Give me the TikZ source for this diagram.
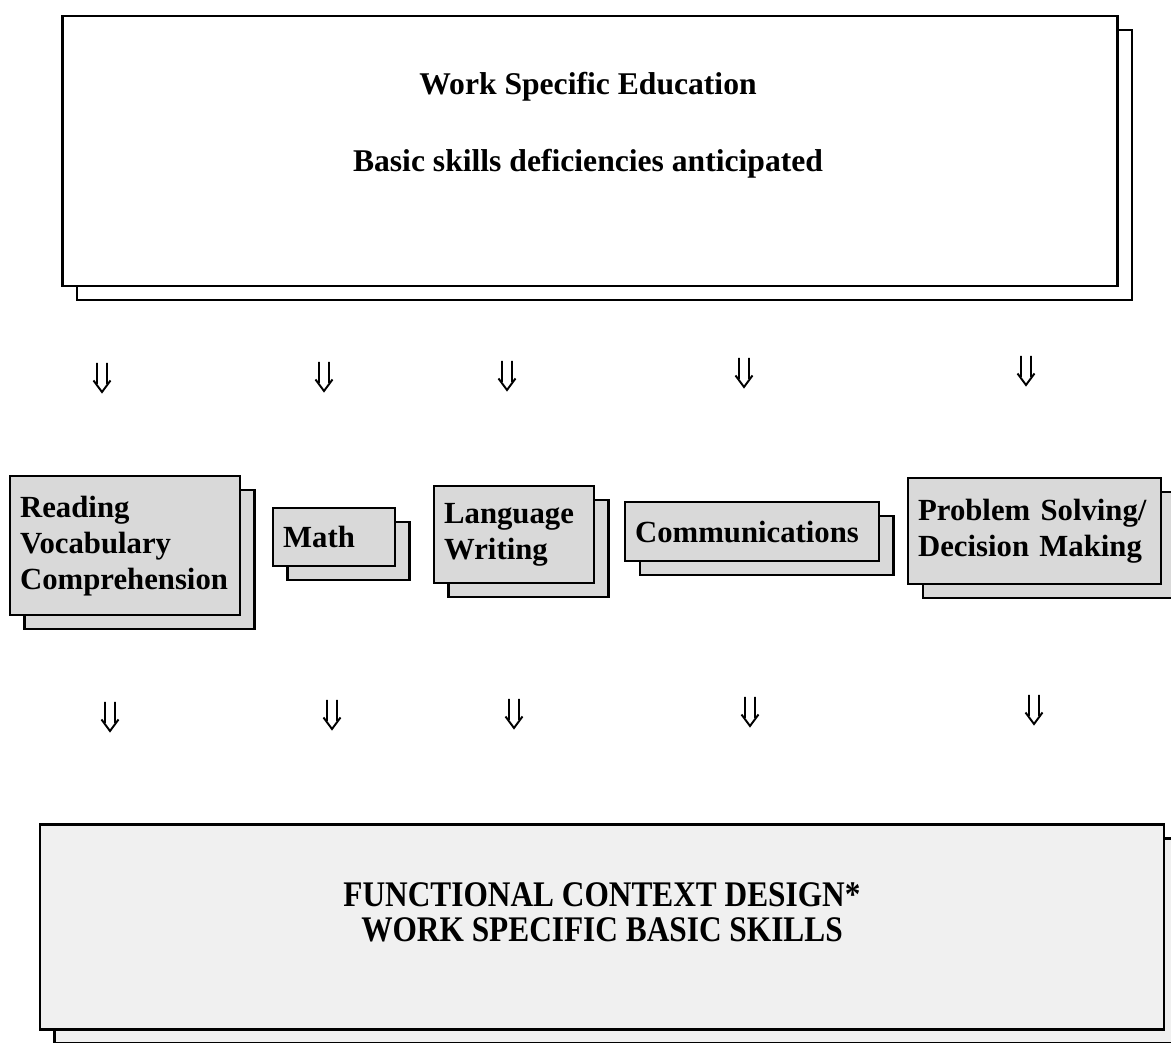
\documentclass[tikz,border=0pt]{standalone}
\usepackage{fontspec}
\setmainfont{Liberation Serif}
\newfontfamily\capsfont[FakeStretch=0.87]{Liberation Serif}
\usetikzlibrary{shadows}
\definecolor{SkillFill}{gray}{0.85}
\definecolor{DesignFill}{gray}{0.94}

\tikzset{
  stack/.style={
    draw,
    line width=1.3pt,
    rectangle,
    copy shadow={shadow xshift=0.29cm, shadow yshift=-0.28cm}
  },
  skill/.style={
    stack,
    fill=SkillFill,
    anchor=north west,
    align=left,
    inner xsep=0.2cm,
    inner ysep=0pt,
    font=\bfseries\fontsize{17.5}{20.5}\selectfont
  },
  % the double down arrow between the rows
  dnarrow/.pic={
    \draw[line width=1.1pt, line join=miter]
      (-5,0) -- (-5,21)
      (5,0) -- (5,21)
      (-8.5,17.5) -- (0,29) -- (8.5,17.5);
  }
}

\begin{document}
\begin{tikzpicture}[x=0.02cm,y=-0.02cm]
  \useasboundingbox (0,0) rectangle (1171,1043);

  % top block
  \node[stack, fill=white,
    minimum width=21.1cm,
    minimum height=5.4cm
  ] (edu) at (590,151) {};
  \node[anchor=base, font=\bfseries\fontsize{18}{22}\selectfont] (eduhead) at (588,95) {Work Specific Education};
  \node[anchor=base, font=\bfseries\fontsize{18}{22}\selectfont] (edusub) at (588,172) {Basic skills deficiencies anticipated};

  % skill areas
  \node[skill, text width=4.2cm, minimum height=2.78cm] (read) at (9,475)
    {Reading\\Vocabulary\\Comprehension};
  \node[skill, text width=2.04cm, minimum height=1.16cm] (math) at (272,507)
    {Math};
  \node[skill, text width=2.8cm, minimum height=1.94cm] (lang) at (433,485)
    {Language\\Writing};
  \node[skill, text width=4.68cm, minimum height=1.18cm] (comm) at (624,501)
    {Communications};
  \node[skill, text width=4.66cm, minimum height=2.12cm] (prob) at (907,477)
    {Problem Solving/\\Decision Making};

  % bottom block
  \node[stack, fill=DesignFill,
    minimum width=22.48cm,
    minimum height=4.1cm
  ] (design) at (602,927) {};
  \node[anchor=base, font=\capsfont\bfseries\fontsize{20.5}{24}\selectfont] (designhead) at (602,907) {FUNCTIONAL CONTEXT DESIGN*};
  \node[anchor=base, font=\capsfont\bfseries\fontsize{20.5}{24}\selectfont] (designsub) at (602,942) {WORK SPECIFIC BASIC SKILLS};

  % arrows into the skill areas
  \pic (in1) at (102,363) {dnarrow};
  \pic (in2) at (324,362) {dnarrow};
  \pic (in3) at (507,361) {dnarrow};
  \pic (in4) at (744,358) {dnarrow};
  \pic (in5) at (1026,356) {dnarrow};

  % arrows into the design block
  \pic (out1) at (110,702) {dnarrow};
  \pic (out2) at (332,700) {dnarrow};
  \pic (out3) at (514,699) {dnarrow};
  \pic (out4) at (750,697) {dnarrow};
  \pic (out5) at (1034,695) {dnarrow};
\end{tikzpicture}
\end{document}
